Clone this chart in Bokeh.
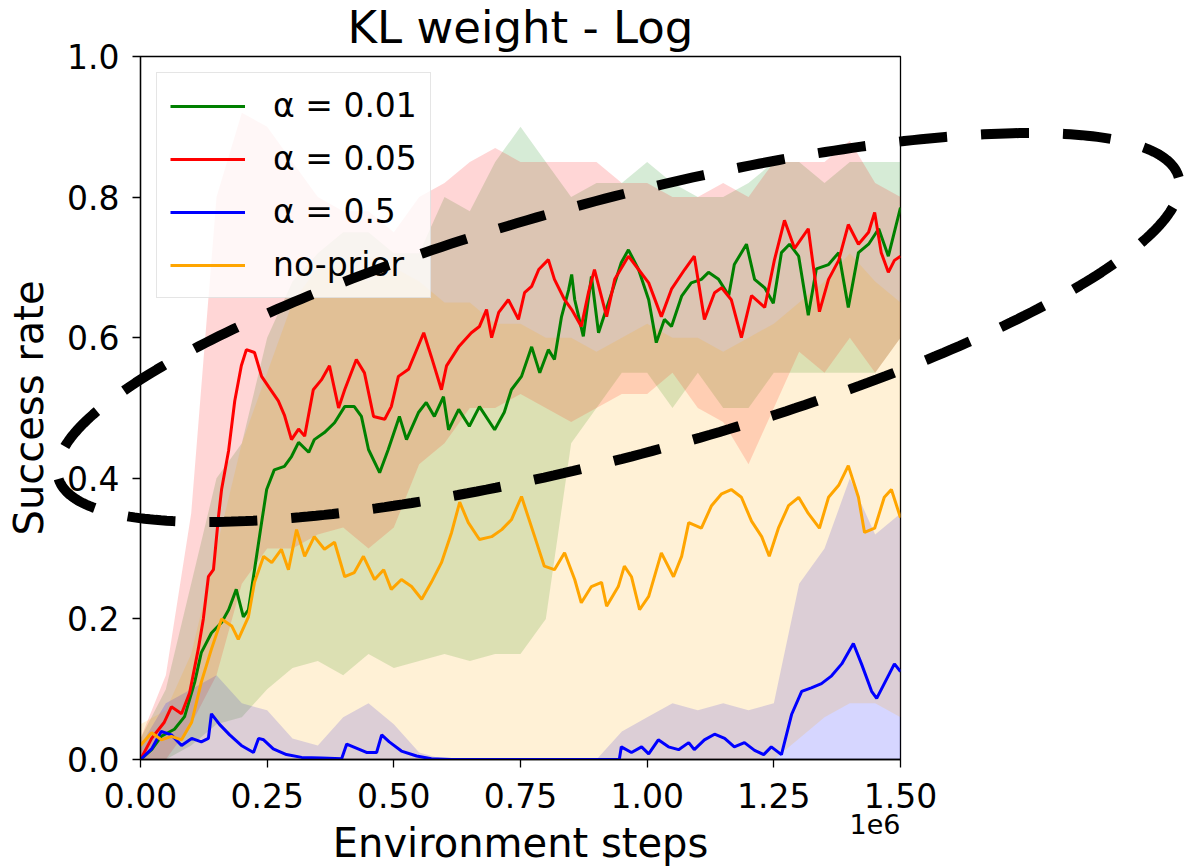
import numpy as np
from bokeh.plotting import figure
from bokeh.models import FixedTicker, NumeralTickFormatter, Range1d
from bokeh.core.properties import value
from bokeh.embed import file_html
from bokeh.resources import INLINE

FONT = "DejaVu Sans"

# ---------------- data (x in 1e6 environment steps) ----------------
green_x = [0.000,0.022,0.041,0.067,0.087,0.107,0.120,0.140,0.160,0.174,0.189,0.203,0.213,0.225,0.239,0.249,0.264,0.284,0.298,0.312,0.332,0.343,0.363,0.383,0.403,0.422,0.436,0.450,0.472,0.489,0.511,0.525,0.549,0.564,0.580,0.598,0.608,0.628,0.649,0.669,0.699,0.718,0.732,0.752,0.772,0.788,0.805,0.817,0.831,0.845,0.851,0.857,0.874,0.890,0.904,0.930,0.949,0.963,0.983,1.003,1.018,1.034,1.048,1.068,1.087,1.107,1.121,1.141,1.161,1.172,1.196,1.212,1.232,1.249,1.265,1.281,1.299,1.318,1.334,1.358,1.378,1.397,1.417,1.437,1.457,1.476,1.500]
green_y = [0.0,0.014,0.033,0.043,0.061,0.11,0.152,0.18,0.195,0.213,0.242,0.203,0.213,0.27,0.337,0.384,0.412,0.417,0.431,0.451,0.437,0.455,0.465,0.479,0.502,0.502,0.488,0.441,0.408,0.441,0.488,0.455,0.494,0.508,0.488,0.516,0.469,0.498,0.474,0.502,0.469,0.494,0.526,0.545,0.587,0.55,0.583,0.569,0.63,0.668,0.69,0.654,0.602,0.687,0.607,0.664,0.707,0.725,0.697,0.654,0.593,0.626,0.616,0.659,0.678,0.683,0.693,0.683,0.66,0.704,0.733,0.683,0.671,0.649,0.721,0.733,0.716,0.632,0.698,0.704,0.721,0.643,0.721,0.733,0.755,0.716,0.785]

red_x = [0.000,0.022,0.047,0.061,0.081,0.097,0.114,0.124,0.134,0.144,0.154,0.160,0.174,0.186,0.199,0.209,0.225,0.239,0.253,0.272,0.284,0.298,0.312,0.324,0.341,0.357,0.373,0.391,0.403,0.426,0.442,0.460,0.482,0.495,0.509,0.529,0.559,0.574,0.594,0.604,0.628,0.653,0.669,0.683,0.693,0.707,0.726,0.746,0.758,0.772,0.786,0.805,0.817,0.837,0.851,0.870,0.884,0.896,0.920,0.936,0.963,0.983,1.003,1.028,1.048,1.074,1.093,1.113,1.133,1.147,1.166,1.186,1.206,1.232,1.251,1.271,1.291,1.318,1.340,1.358,1.378,1.397,1.417,1.437,1.449,1.462,1.476,1.488,1.500]
red_y = [0.0,0.03,0.053,0.075,0.065,0.095,0.157,0.20,0.26,0.27,0.346,0.384,0.44,0.51,0.56,0.583,0.579,0.545,0.53,0.51,0.49,0.455,0.47,0.46,0.526,0.54,0.56,0.50,0.526,0.569,0.55,0.488,0.484,0.502,0.545,0.555,0.607,0.573,0.526,0.56,0.587,0.607,0.616,0.64,0.60,0.636,0.654,0.626,0.664,0.673,0.697,0.711,0.683,0.654,0.64,0.616,0.664,0.697,0.63,0.683,0.716,0.697,0.678,0.63,0.669,0.697,0.716,0.626,0.664,0.671,0.654,0.60,0.66,0.643,0.71,0.767,0.727,0.755,0.637,0.683,0.71,0.761,0.733,0.75,0.778,0.721,0.693,0.71,0.716]

blue_x = [0.000,0.022,0.041,0.061,0.081,0.101,0.120,0.134,0.140,0.156,0.176,0.199,0.223,0.233,0.243,0.262,0.288,0.318,0.357,0.397,0.407,0.420,0.446,0.466,0.476,0.491,0.515,0.545,0.574,0.614,0.945,0.949,0.969,0.989,1.003,1.022,1.042,1.062,1.082,1.093,1.113,1.133,1.153,1.172,1.192,1.212,1.230,1.245,1.265,1.285,1.305,1.324,1.344,1.364,1.384,1.407,1.423,1.443,1.453,1.468,1.488,1.500]
blue_y = [0.0,0.015,0.04,0.035,0.02,0.03,0.025,0.03,0.065,0.05,0.035,0.02,0.01,0.03,0.028,0.015,0.007,0.003,0.002,0.001,0.022,0.018,0.01,0.01,0.035,0.025,0.012,0.005,0.001,0.0,0.0,0.018,0.01,0.018,0.008,0.028,0.018,0.014,0.024,0.014,0.028,0.036,0.03,0.018,0.024,0.013,0.007,0.018,0.007,0.064,0.097,0.102,0.108,0.119,0.136,0.165,0.136,0.097,0.087,0.108,0.136,0.125]

orange_x = [0.000,0.022,0.041,0.061,0.081,0.101,0.120,0.140,0.160,0.180,0.193,0.213,0.225,0.243,0.259,0.278,0.292,0.308,0.324,0.343,0.363,0.383,0.403,0.422,0.440,0.462,0.480,0.495,0.515,0.535,0.555,0.574,0.594,0.614,0.630,0.647,0.669,0.693,0.713,0.732,0.752,0.778,0.797,0.817,0.837,0.857,0.870,0.890,0.910,0.920,0.943,0.955,0.969,0.985,1.003,1.028,1.052,1.068,1.082,1.107,1.127,1.147,1.166,1.186,1.206,1.226,1.241,1.259,1.279,1.299,1.318,1.340,1.358,1.378,1.397,1.417,1.429,1.449,1.468,1.482,1.500]
orange_y = [0.02,0.038,0.028,0.033,0.028,0.053,0.11,0.157,0.2,0.19,0.171,0.203,0.252,0.289,0.28,0.299,0.27,0.327,0.289,0.317,0.299,0.309,0.26,0.266,0.289,0.256,0.27,0.242,0.256,0.246,0.228,0.252,0.28,0.323,0.366,0.337,0.313,0.317,0.327,0.341,0.374,0.317,0.275,0.27,0.294,0.256,0.223,0.246,0.252,0.218,0.246,0.275,0.26,0.213,0.232,0.294,0.26,0.289,0.337,0.329,0.361,0.378,0.384,0.373,0.339,0.317,0.289,0.329,0.361,0.373,0.35,0.329,0.373,0.39,0.418,0.373,0.323,0.329,0.373,0.384,0.344]

# shaded spread bands on a coarse grid
band_x = [0.0,0.05,0.1,0.15,0.2,0.25,0.3,0.35,0.4,0.45,0.5,0.55,0.6,0.65,0.7,0.75,0.8,0.85,0.9,0.95,1.0,1.05,1.1,1.15,1.2,1.25,1.3,1.35,1.4,1.45,1.5]
green_lo = [0,0,0.02,0.05,0.06,0.1,0.13,0.14,0.12,0.15,0.13,0.14,0.15,0.14,0.15,0.15,0.2,0.45,0.5,0.55,0.55,0.5,0.55,0.5,0.5,0.55,0.55,0.55,0.55,0.55,0.6]
green_hi = [0.03,0.1,0.25,0.4,0.45,0.6,0.68,0.72,0.75,0.75,0.72,0.72,0.8,0.78,0.85,0.9,0.85,0.8,0.82,0.82,0.85,0.82,0.8,0.8,0.82,0.85,0.85,0.82,0.85,0.85,0.85]
red_lo = [0,0,0.05,0.12,0.25,0.3,0.3,0.32,0.33,0.3,0.33,0.42,0.45,0.5,0.5,0.52,0.5,0.48,0.5,0.52,0.52,0.55,0.5,0.48,0.42,0.5,0.58,0.55,0.6,0.55,0.6]
red_hi = [0.03,0.12,0.35,0.8,0.92,0.9,0.85,0.8,0.78,0.78,0.75,0.8,0.82,0.85,0.87,0.85,0.85,0.85,0.85,0.82,0.82,0.8,0.8,0.82,0.8,0.85,0.85,0.85,0.88,0.82,0.8]
blue_lo = [0]*31
blue_hi = [0.02,0.08,0.1,0.12,0.08,0.07,0.03,0.02,0.06,0.08,0.05,0.01,0,0,0,0,0,0,0,0.04,0.06,0.08,0.07,0.08,0.07,0.08,0.25,0.3,0.4,0.32,0.35]
orange_lo = [0]*26 + [0.03,0.06,0.08,0.08,0.06]
orange_hi = [0.05,0.07,0.15,0.3,0.45,0.55,0.65,0.7,0.7,0.68,0.7,0.68,0.65,0.65,0.62,0.62,0.6,0.6,0.58,0.6,0.62,0.6,0.6,0.58,0.6,0.62,0.65,0.68,0.72,0.68,0.65]

x_ticks = [0.0, 0.25, 0.5, 0.75, 1.0, 1.25, 1.5]
y_ticks = [0.0, 0.2, 0.4, 0.6, 0.8, 1.0]

TITLE = "KL weight - Log"
GREEN, RED, BLUE, ORANGE = "#008000", "#ff0000", "#0000ff", "#ffa500"
W, H = 1184, 868

# ---------------- main figure ----------------
p = figure(width=W, height=H, output_backend="svg", toolbar_location=None,
           x_range=Range1d(0, 1.5), y_range=Range1d(0, 1.0),
           min_border_left=140, min_border_right=284, min_border_top=56,
           min_border_bottom=108, background_fill_color="white",
           border_fill_color="white")
p.title.visible = False
p.xgrid.visible = False
p.ygrid.visible = False
p.outline_line_color = "black"
p.outline_line_width = 1.3
p.outline_line_alpha = 1.0

BAND_ALPHA = 0.16
for lo, hi, c in [(green_lo, green_hi, GREEN), (red_lo, red_hi, RED),
                  (blue_lo, blue_hi, BLUE), (orange_lo, orange_hi, ORANGE)]:
    p.varea(x=band_x, y1=lo, y2=hi, fill_color=c, fill_alpha=BAND_ALPHA)

p.line(green_x, green_y, line_color=GREEN, line_width=3, legend_label="α = 0.01")
p.line(red_x, red_y, line_color=RED, line_width=3, legend_label="α = 0.05")
p.line(blue_x, blue_y, line_color=BLUE, line_width=3, legend_label="α = 0.5")
p.line(orange_x, orange_y, line_color=ORANGE, line_width=3, legend_label="no-prior")

for ax in (p.xaxis[0], p.yaxis[0]):
    ax.axis_line_color = "black"
    ax.axis_line_width = 1.3
    ax.major_tick_line_color = "black"
    ax.major_tick_line_width = 1.3
    ax.major_tick_out = 8
    ax.major_tick_in = 0
    ax.minor_tick_out = 0
    ax.minor_tick_in = 0
    ax.major_label_text_font = FONT
    ax.major_label_text_font_size = "33px"
    ax.major_label_text_color = "black"
    ax.axis_label_text_font = FONT
    ax.axis_label_text_font_size = "40px"
    ax.axis_label_text_font_style = "normal"
    ax.axis_label_text_color = "black"

p.xaxis.ticker = FixedTicker(ticks=x_ticks)
p.xaxis.formatter = NumeralTickFormatter(format="0.00")
p.xaxis.axis_label = "Environment steps"
p.xaxis.major_label_standoff = 15
p.xaxis.axis_label_standoff = 9

p.yaxis.ticker = FixedTicker(ticks=y_ticks)
p.yaxis.formatter = NumeralTickFormatter(format="0.0")
p.yaxis.axis_label = "Success rate"
p.yaxis.major_label_standoff = 13
p.yaxis.axis_label_standoff = 12

lg = p.legend[0]
lg.location = "top_left"
lg.margin = 16
lg.padding = 13
lg.spacing = 14
lg.glyph_width = 75
lg.glyph_height = 30
lg.label_standoff = 28
lg.label_text_font = FONT
lg.label_text_font_size = "33px"
lg.label_text_color = "black"
lg.background_fill_color = "white"
lg.background_fill_alpha = 0.8
lg.border_line_color = "#cccccc"
lg.border_line_width = 1.2

# ---------------- transparent overlay (page pixel coordinates, y up) ----------------
ov = figure(width=W, height=H, output_backend="svg", toolbar_location=None,
            x_range=Range1d(0, W), y_range=Range1d(0, H),
            x_axis_location=None, y_axis_location=None,
            min_border_left=0, min_border_right=0, min_border_top=0, min_border_bottom=0,
            background_fill_alpha=0.0, border_fill_alpha=0.0)
ov.title.visible = False
ov.grid.visible = False
ov.outline_line_color = None
ov.margin = (-H, 0, 0, 0)

# chart title, centred over the plot frame
ov.text(x=[520], y=[H - 27], text=[TITLE], text_font=value(FONT),
        text_font_size="45px", text_color="black", text_align="center",
        text_baseline="middle")

# dashed highlight ellipse
ELL_CX, ELL_CY = 618.0, 541.0
ELL_A, ELL_B = 580.0, 128.0
ELL_ANGLE = np.deg2rad(15.0)
t = np.linspace(0, 2 * np.pi, 361)
ex = ELL_CX + ELL_A * np.cos(t) * np.cos(ELL_ANGLE) - ELL_B * np.sin(t) * np.sin(ELL_ANGLE)
ey = ELL_CY + ELL_A * np.cos(t) * np.sin(ELL_ANGLE) + ELL_B * np.sin(t) * np.cos(ELL_ANGLE)
ov.line(ex, ey, line_color="black", line_width=10, line_dash="48 34")

# axis offset text
ov.text(x=[900], y=[H - 823], text=["1e6"], text_font=value(FONT),
        text_font_size="27px", text_color="black", text_align="right",
        text_baseline="middle")

open("out.html", "w").write(file_html([p, ov], INLINE))
